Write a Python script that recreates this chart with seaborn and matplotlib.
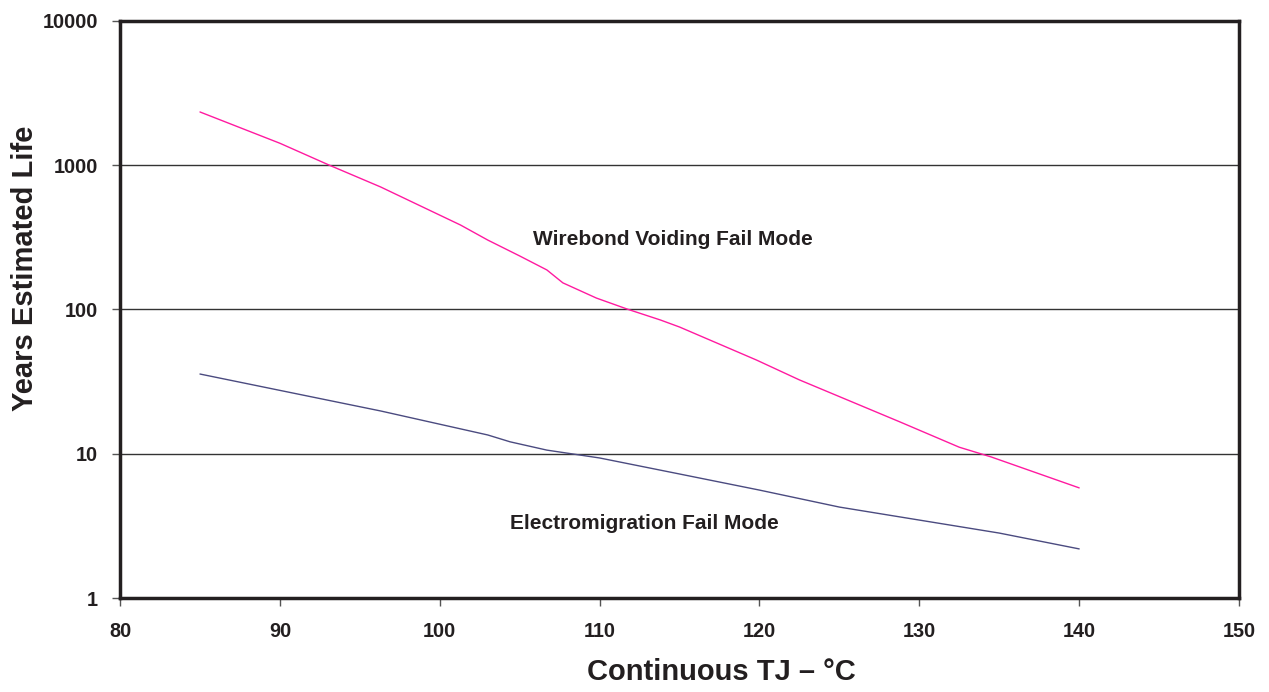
import numpy as np
import pandas as pd
import seaborn as sns
import matplotlib
matplotlib.use("Agg")
import matplotlib.pyplot as plt
from matplotlib.ticker import FixedLocator, NullLocator

# values
temp_wirebond = [85, 90, 93.1, 96.3, 101.3, 103, 105, 106.7, 107.7, 109.8, 111.8, 113.8, 115, 119.8, 122.5, 128.8, 132.5, 134.5, 140]
life_wirebond = [2340, 1420, 1000, 707, 385, 303, 235, 188, 153, 120, 100, 84.6, 75.6, 44.7, 32.5, 16.6, 11.1, 9.5, 5.8]

temp_em = [85, 90, 96.3, 103, 104.4, 106.7, 110, 115, 120, 125, 130, 135, 140]
life_em = [35.7, 27.5, 19.8, 13.5, 12.1, 10.6, 9.35, 7.24, 5.6, 4.27, 3.47, 2.82, 2.19]

y_ticks = [1, 10, 100, 1000, 10000]
x_ticks = [80, 90, 100, 110, 120, 130, 140, 150]

df = pd.concat([
    pd.DataFrame({"temp": temp_wirebond, "life": life_wirebond, "mode": "Wirebond"}),
    pd.DataFrame({"temp": temp_em, "life": life_em, "mode": "Electromigration"}),
])

sns.set_style("white")
plt.rcParams["font.family"] = ["Liberation Sans", "DejaVu Sans"]

fig = plt.figure(figsize=(12.69, 6.92), dpi=100)
ax = fig.add_axes([0.0946, 0.1358, 0.8818, 0.8339])

sns.lineplot(data=df, x="temp", y="life", hue="mode",
             palette={"Wirebond": "#ff1aa0", "Electromigration": "#4b4b80"},
             linewidth=1.0, legend=False, sort=False, ax=ax)

ax.set_yscale("log")
ax.set_ylim(1, 10000)
ax.set_xlim(80, 150)
ax.yaxis.set_major_locator(FixedLocator(y_ticks))
ax.yaxis.set_minor_locator(NullLocator())
ax.set_yticklabels([str(t) for t in y_ticks])
ax.set_xticks(x_ticks)
ax.set_xticklabels([str(t) for t in x_ticks])

for t in y_ticks[1:-1]:
    ax.axhline(t, color="#333333", linewidth=1.0, zorder=0)

for s in ax.spines.values():
    s.set_visible(True)
    s.set_color("#231f20")
    s.set_linewidth(2.5)

ax.tick_params(axis="both", direction="out", length=6, width=1, color="#555555",
               labelsize=14.3, labelcolor="#231f20", left=True, bottom=True)
ax.tick_params(axis="x", pad=11)
ax.tick_params(axis="y", pad=10)
for lbl in ax.get_xticklabels() + ax.get_yticklabels():
    lbl.set_fontweight("bold")

ax.set_xlabel("Continuous TJ \u2013 \u00b0C", fontsize=21, fontweight="bold",
              color="#231f20", va="center")
ax.set_ylabel("Years Estimated Life", fontsize=21, fontweight="bold",
              color="#231f20", va="center")
ax.xaxis.set_label_coords(0.537, -0.128)
ax.yaxis.set_label_coords(-0.085, 0.572)

ax.text(114.6, 308, "Wirebond Voiding Fail Mode", ha="center", va="center",
        fontsize=15, fontweight="bold", color="#231f20")
ax.text(112.8, 3.26, "Electromigration Fail Mode", ha="center", va="center",
        fontsize=15, fontweight="bold", color="#231f20")

fig.savefig("out.png", dpi=100)
